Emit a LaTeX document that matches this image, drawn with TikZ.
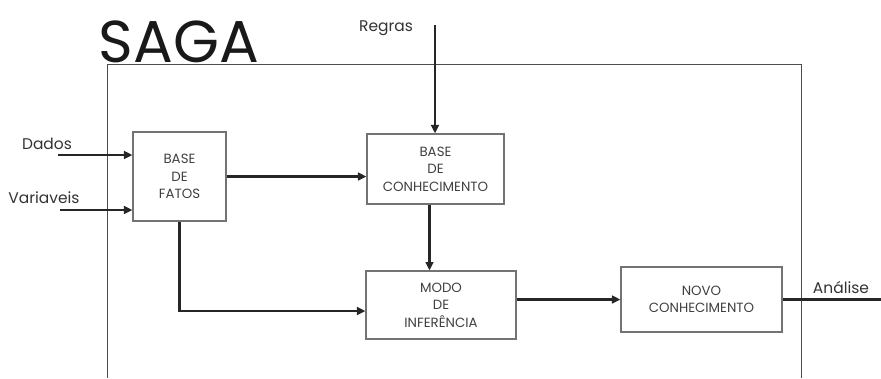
\documentclass[tikz,border=0pt]{standalone}
\usepackage{fontspec}
\setmainfont{Poppins}
\usetikzlibrary{arrows.meta}

\begin{document}
\begin{tikzpicture}[x=0.025cm, y=-0.025cm,
        bloco/.style={draw=black!55, line width=0.8pt, align=center, inner sep=2pt,
            font=\fontsize{9.5}{12.5}\selectfont, text=black!75},
        rotulo/.style={font=\fontsize{11}{13}\selectfont, text=black!80, inner sep=0pt},
        fluxo/.style={draw=black!85, line width=1.7pt, -{Triangle[length=6pt,width=5.5pt]}},
        moldura/.style={draw=black!70, line width=0.7pt}]

    \useasboundingbox (0,0) rectangle (881,378);

    % moldura do sistema
    \draw[moldura] (107,378) -- (107,64) -- (801,64) -- (801,378);
    \node[inner sep=0pt, text=black!90, font=\fontsize{42}{42}\selectfont] (saga) at (179,42) {SAGA};

    % blocos
    \node[bloco, minimum width=2.325cm, minimum height=2.225cm] (fatos) at (179.5,176.5) {BASE\\DE\\FATOS};
    \node[bloco, minimum width=3.425cm, minimum height=1.75cm] (conhec) at (435.5,169) {BASE\\DE\\CONHECIMENTO};
    \node[bloco, minimum width=3.75cm, minimum height=1.7cm] (modo) at (441,305) {MODO\\DE\\INFERÊNCIA};
    \node[bloco, minimum width=4.025cm, minimum height=1.625cm] (novo) at (701.5,299.5) {NOVO\\CONHECIMENTO};

    % entradas e saida
    \node[rotulo] (dados) at (47,144) {Dados};
    \node[rotulo] (variaveis) at (44,198) {Variaveis};
    \node[rotulo] (regras) at (386,28) {Regras};
    \node[rotulo] (analise) at (841,288) {Análise};

    \coordinate (dadosin) at (58,155);
    \coordinate (varin) at (60,210);
    \coordinate (regrasin) at (435,25);
    \coordinate (saida) at (881,300);

    % conexoes
    \draw[fluxo] (dadosin) -- (fatos.west |- dadosin);
    \draw[fluxo] (varin) -- (fatos.west |- varin);
    \draw[fluxo] (regrasin) -- (regrasin |- conhec.north);
    \draw[fluxo] (fatos.east) -- (fatos.east -| conhec.west);
    \draw[fluxo] ([xshift=-0.15cm]conhec.south) -- ([xshift=-0.15cm]conhec.south |- modo.north);
    \draw[fluxo] (fatos.south) |- ([yshift=-0.15cm]modo.west);
    \draw[fluxo] (modo.east |- novo.west) -- (novo.west);
    \draw[draw=black!85, line width=1.7pt] (novo.east) -- (novo.east -| saida);
\end{tikzpicture}
\end{document}
